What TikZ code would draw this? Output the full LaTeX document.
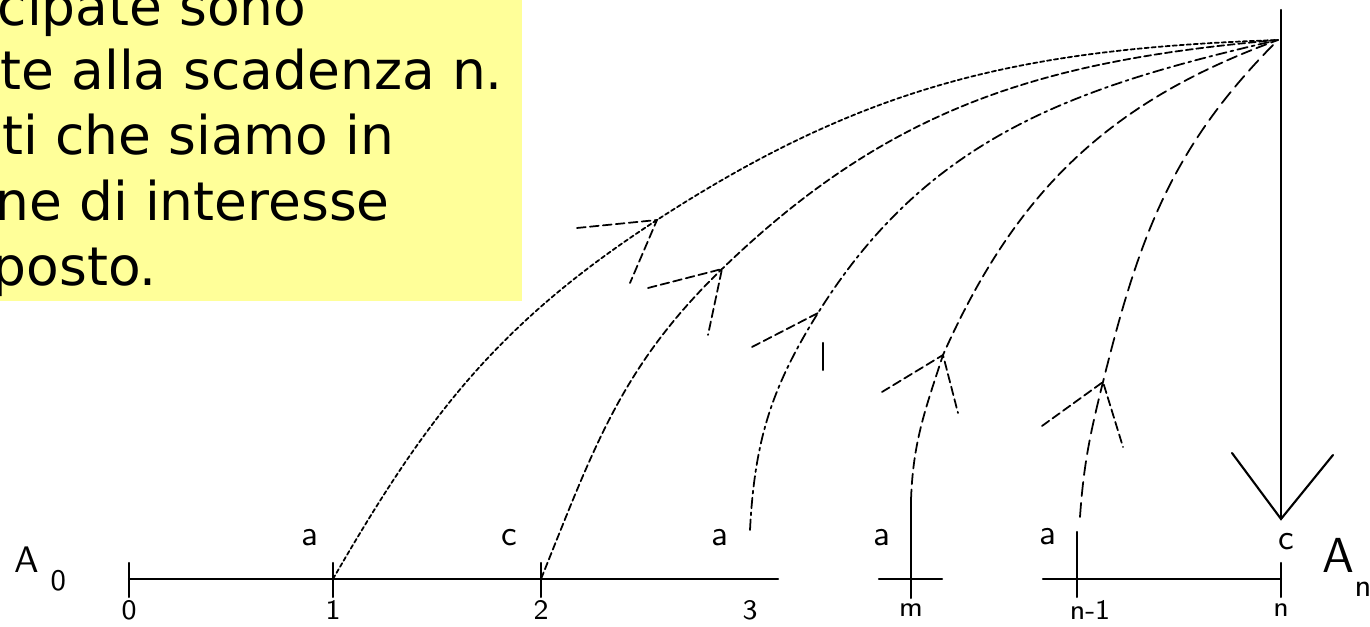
\documentclass[tikz,border=0pt]{standalone}
\usepackage{fontspec}
\newfontfamily\notafont{DejaVu Sans}
\definecolor{notagialla}{HTML}{FFFF99}
\begin{document}
\begin{tikzpicture}[>=stealth,line cap=round,
  riga/.style={font=\notafont\fontsize{15.2}{18}\selectfont,anchor=base west,inner sep=0pt},
  lbl/.style={font=\sffamily\fontsize{10}{10}\selectfont,inner sep=0pt},
  num/.style={font=\sffamily\fontsize{8}{9}\selectfont,inner sep=0pt},
  asse/.style={line width=0.6pt},
  arm/.style={line width=0.5pt,dash pattern=on 2.5pt off 1.2pt},
  c1/.style={line width=0.5pt,dash pattern=on 1.2pt off 0.8pt},
  c2/.style={line width=0.5pt,dash pattern=on 2pt off 1pt},
  c3/.style={line width=0.5pt,dash pattern=on 3pt off 1.2pt on 0.8pt off 1.2pt},
  c4/.style={line width=0.5pt,dash pattern=on 3pt off 1.5pt},
  c5/.style={line width=0.5pt,dash pattern=on 4pt off 2pt}]
\useasboundingbox (0,0) rectangle (13.7,6.27);
% riquadro giallo
\fill[notagialla] (-0.1,3.26) rectangle (5.22,6.4);
\node[riga] (r1) at (-0.03,6.01) {cipate sono};
\node[riga] (r2) at (0,5.37) {te alla scadenza n.};
\node[riga] (r3) at (0.02,4.72) {ti che siamo in};
\node[riga] (r4) at (-0.05,4.06) {ne di interesse};
\node[riga] (r5) at (-0.08,3.41) {posto.};
% asse dei tempi
\coordinate (t0) at (1.29,0.48);
\coordinate (t1) at (3.33,0.48);
\coordinate (t2) at (5.41,0.48);
\coordinate (t3) at (7.50,0.48);
\coordinate (tm) at (9.11,0.48);
\coordinate (tn1) at (10.77,0.48);
\coordinate (tn) at (12.81,0.48);
\draw[asse] (t0) -- (7.78,0.48);
\draw[asse] (8.79,0.48) -- (9.42,0.48);
\draw[asse] (10.43,0.48) -- (tn);
\foreach \t in {t0,t1,t2,tn1,tn}
  \draw[asse] ([yshift=-0.18cm]\t) -- ([yshift=0.16cm]\t);
\draw[asse] ([yshift=-0.19cm]tm) -- ([yshift=0.79cm]tm);
\draw[asse] ([yshift=0.16cm]tn1) -- ([yshift=0.47cm]tn1);
\node[num] at (1.29,0.17) {0};
\node[num] at (3.33,0.17) {1};
\node[num] at (5.41,0.17) {2};
\node[num] at (7.50,0.17) {3};
\node[num] at (9.11,0.17) {m};
\node[num] at (10.90,0.17) {n-1};
\node[num] at (12.81,0.17) {n};
\node[lbl] at (3.10,0.89) {a};
\node[lbl] at (5.09,0.89) {c};
\node[lbl] at (7.20,0.89) {a};
\node[lbl] at (8.82,0.89) {a};
\node[lbl] at (10.48,0.90) {a};
\node[lbl] at (12.86,0.85) {c};
\node[font=\sffamily\fontsize{10.5}{10}\selectfont,inner sep=0pt] (A0) at (0.40,0.58) {A\hspace{0.12cm}\raisebox{-1.1ex}{\fontsize{8.5}{8}\selectfont 0}};
\node[font=\sffamily\fontsize{14}{14}\selectfont,inner sep=0pt,anchor=west] (An) at (13.22,0.60) {A\raisebox{-1.1ex}{\fontsize{9}{9}\selectfont n}};
% montante
\coordinate (cima) at (12.81,6.17);
\coordinate (punta) at (12.81,1.08);
\coordinate (aL) at (12.32,1.74);
\coordinate (aR) at (13.33,1.72);
\draw[asse] (cima) -- (punta);
\draw[asse] (aL) -- (punta) -- (aR);
% capitalizzazioni
\coordinate (fine) at (12.78,5.87);
\coordinate (h1) at (6.57,4.07);
\coordinate (h2) at (7.22,3.58);
\coordinate (h3) at (8.18,3.14);
\coordinate (h4) at (9.43,2.72);
\coordinate (h5) at (11.03,2.45);
\coordinate (s3) at (7.50,0.97);
\coordinate (s4) at (9.11,1.27);
\coordinate (s5) at (10.80,1.10);
\draw[c1] (t1) to[out=60,in=213] (h1) to[out=33,in=182] (fine);
\draw[c2] (t2) to[out=68,in=224] (h2) to[out=44,in=185] (fine);
\draw[c3] (s3) to[out=87,in=238] (h3) to[out=58,in=193] (fine);
\draw[c4] (s4) to[out=88,in=252] (h4) to[out=66,in=200] (fine);
\draw[c5] (s5) to[out=86,in=256] (h5) to[out=76,in=225] (fine);
% frecce
\draw[arm] (5.77,3.99) -- (h1) -- (6.30,3.44);
\draw[arm] (6.48,3.39) -- (h2) -- (7.08,2.92);
\draw[arm] (7.52,2.80) -- (h3);
\draw[asse] (8.23,2.84) -- (8.23,2.57);
\draw[arm] (8.82,2.35) -- (h4) -- (9.58,2.14);
\draw[arm] (10.42,2.01) -- (h5) -- (11.23,1.80);
\end{tikzpicture}
\end{document}
